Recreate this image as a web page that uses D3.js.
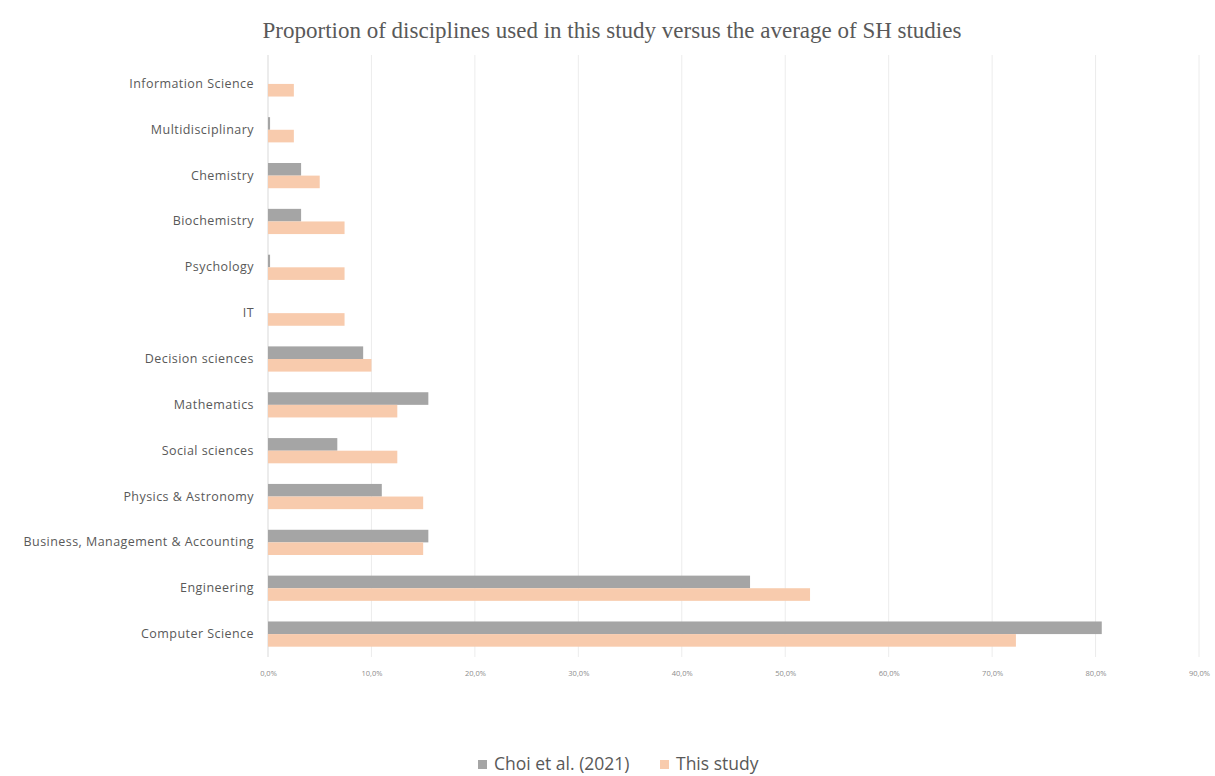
<!DOCTYPE html>
<html>
<head>
<meta charset="utf-8">
<script src="https://cdn.jsdelivr.net/npm/d3@7"></script>
<style>
  body { margin: 0; background: #fff; }
  svg { display: block; }
</style>
</head>
<body>
<div id="chart"></div>
<script>
const width = 1215;
const height = 776;

// disciplines, top to bottom
const categories = [
  'Information Science', 'Multidisciplinary', 'Chemistry', 'Biochemistry',
  'Psychology', 'IT', 'Decision sciences', 'Mathematics', 'Social sciences',
  'Physics & Astronomy', 'Business, Management & Accounting', 'Engineering',
  'Computer Science'
];
const seriesNames = ['Choi et al. (2021)', 'This study'];
// values in %
const choiValues = [0, 0.2, 3.2, 3.2, 0.2, 0, 9.2, 15.5, 6.7, 11.0, 15.5, 46.6, 80.6];
const thisValues = [2.5, 2.5, 5.0, 7.4, 7.4, 7.4, 10.0, 12.5, 12.5, 15.0, 15.0, 52.4, 72.3];
const xTicks = [0, 10, 20, 30, 40, 50, 60, 70, 80, 90];
const colors = ['#a5a5a5', '#f8cbad'];

const svg = d3.select('#chart').append('svg')
  .attr('width', width)
  .attr('height', height);

// scales
const x = d3.scaleLinear().domain([0, 90]).range([268, 1199]);
const y = d3.scaleBand()
  .domain(categories)
  .range([61, 657])
  .paddingInner(0.45)
  .paddingOuter(0.225);
const ySub = d3.scaleBand()
  .domain(seriesNames)
  .range([0, y.bandwidth()]);

// title
svg.append('text')
  .attr('x', 612)
  .attr('y', 38)
  .attr('text-anchor', 'middle')
  .style('font-family', '"Liberation Serif", "Times New Roman", serif')
  .style('font-size', '23px')
  .style('fill', '#595959')
  .text('Proportion of disciplines used in this study versus the average of SH studies');

// gridlines
svg.append('g')
  .selectAll('line')
  .data(xTicks)
  .enter().append('line')
    .attr('x1', d => x(d))
    .attr('x2', d => x(d))
    .attr('y1', 55)
    .attr('y2', 657)
    .attr('stroke', d => d === 0 ? '#d9d9d9' : '#ececec')
    .attr('stroke-width', 1);

// x axis
const xAxis = d3.axisBottom(x)
  .tickValues(xTicks)
  .tickSize(0)
  .tickFormat(d => d.toFixed(1).replace('.', ',') + '%');
const gx = svg.append('g')
  .attr('transform', 'translate(0,668)')
  .call(xAxis);
gx.select('.domain').remove();
gx.selectAll('text')
  .style('font-family', '"Open Sans", sans-serif')
  .style('font-size', '7.5px')
  .style('fill', '#8c8c8c');

// y axis
const yAxis = d3.axisLeft(y).tickSize(0).tickPadding(14);
const gy = svg.append('g')
  .attr('transform', `translate(${x(0)},0)`)
  .call(yAxis);
gy.select('.domain').remove();
gy.selectAll('text')
  .style('font-family', '"Open Sans", sans-serif')
  .style('font-size', '12.5px')
  .style('letter-spacing', '0.45px')
  .style('fill', '#595959');

// bars
const rows = categories.map((c, i) => ({
  category: c,
  values: [choiValues[i], thisValues[i]]
}));

const groups = svg.append('g')
  .selectAll('g')
  .data(rows)
  .enter().append('g')
    .attr('transform', d => `translate(0,${y(d.category)})`);

groups.selectAll('rect')
  .data(d => d.values.map((v, j) => ({ name: seriesNames[j], value: v, j: j })))
  .enter().append('rect')
    .attr('x', x(0))
    .attr('y', d => ySub(d.name))
    .attr('width', d => x(d.value) - x(0))
    .attr('height', ySub.bandwidth())
    .attr('fill', d => colors[d.j]);

// legend
const legend = svg.append('g')
  .attr('transform', 'translate(478,770)');
const legendX = [0, 182];
seriesNames.forEach((name, j) => {
  const item = legend.append('g').attr('transform', `translate(${legendX[j]},0)`);
  item.append('rect')
    .attr('x', 0)
    .attr('y', -10)
    .attr('width', 9)
    .attr('height', 9)
    .attr('fill', colors[j]);
  item.append('text')
    .attr('x', 16)
    .attr('y', 0)
    .style('font-family', '"Open Sans", sans-serif')
    .style('font-size', '17.5px')
    .style('fill', '#595959')
    .text(name);
});
</script>
</body>
</html>
